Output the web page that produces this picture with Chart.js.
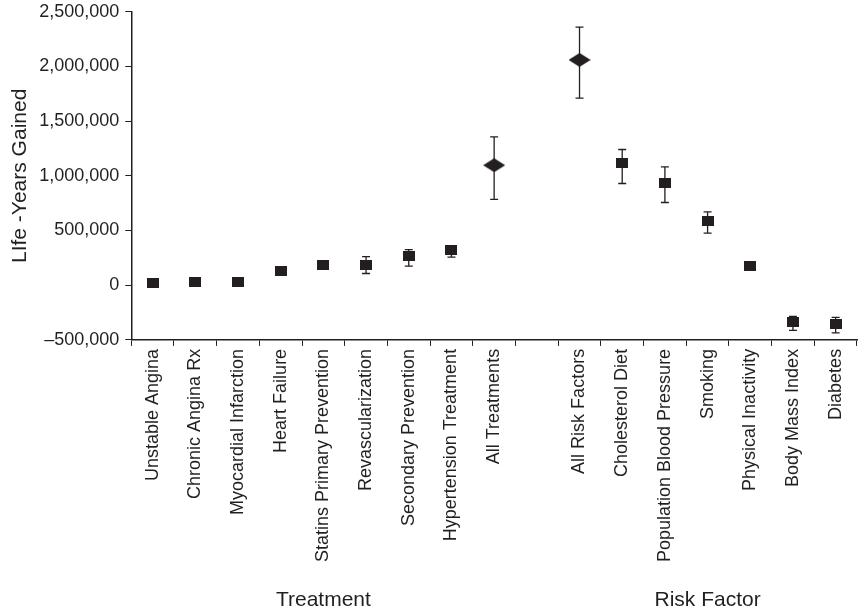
<!DOCTYPE html>
<html>
<head>
<meta charset="utf-8">
<script src="https://cdn.jsdelivr.net/npm/chart.js@4"></script>
<style>
  html, body { margin: 0; padding: 0; background: #fff; overflow: hidden; }
  #wrap { position: absolute; left: 0; top: -5px; width: 868px; height: 615px; }
</style>
</head>
<body>
<div id="wrap"><canvas id="lifeChart"></canvas></div>
<script>
const categories = [
    'Unstable Angina', 'Chronic Angina Rx', 'Myocardial Infarction', 'Heart Failure',
    'Statins Primary Prevention', 'Revascularization', 'Secondary Prevention',
    'Hypertension Treatment', 'All Treatments', '',
    'All Risk Factors', 'Cholesterol Diet', 'Population Blood Pressure', 'Smoking',
    'Physical Inactivity', 'Body Mass Index', 'Diabetes'
];
// individual items (squares)
const itemValues = [20000, 30000, 30000, 128000, 183000, 183000, 265000, 320000, null, null,
                    null, 1113000, 933000, 585000, 174000, -338000, -357000];
// totals (diamonds)
const totalValues = [null, null, null, null, null, null, null, null, 1097000, null,
                     2060000, null, null, null, null, null, null];
const lowValues  = [null, null, null, null, 170000, 107000, 174000, 256000, 784000, null,
                    1710000, 930000, 756000, 476000, 160000, -414000, -436000];
const highValues = [null, null, null, null, 200000, 262000, 326000, 359000, 1356000, null,
                    2360000, 1241000, 1082000, 671000, 188000, -286000, -295000];
const yTicks = [-500000, 0, 500000, 1000000, 1500000, 2000000, 2500000];
const groups = [
    { label: 'Treatment', center: 4 },
    { label: 'Risk Factor', center: 13 }
];

const INK = '#231f20';
const FONT = '"Liberation Sans", Arial, sans-serif';

function makeMarker(w, h, diamond) {
    const c = document.createElement('canvas');
    c.width = w; c.height = h;
    const g = c.getContext('2d');
    g.fillStyle = INK;
    if (diamond) {
        g.beginPath();
        g.moveTo(w / 2, 0); g.lineTo(w, h / 2); g.lineTo(w / 2, h); g.lineTo(0, h / 2);
        g.closePath(); g.fill();
    } else {
        g.fillRect(0, 0, w, h);
    }
    return c;
}
const squareMark = makeMarker(12, 10, false);
const diamondMark = makeMarker(22, 14, true);

const errorBars = {
    id: 'errorBars',
    afterDatasetsDraw(chart) {
        const { ctx, scales: { x, y } } = chart;
        ctx.save();
        ctx.strokeStyle = INK;
        ctx.lineWidth = 1.3;
        lowValues.forEach((lo, i) => {
            const hi = highValues[i];
            if (lo === null || hi === null) return;
            const px = x.getPixelForValue(i);
            const y1 = y.getPixelForValue(lo), y2 = y.getPixelForValue(hi);
            ctx.beginPath();
            ctx.moveTo(px, y1); ctx.lineTo(px, y2);
            ctx.moveTo(px - 4, y1); ctx.lineTo(px + 4, y1);
            ctx.moveTo(px - 4, y2); ctx.lineTo(px + 4, y2);
            ctx.stroke();
        });
        ctx.restore();
    }
};

// canvas is shifted up 5px, so 605 here lands at 600 on the page
const groupLabels = {
    id: 'groupLabels',
    afterDraw(chart) {
        const { ctx, scales: { x } } = chart;
        ctx.save();
        ctx.fillStyle = INK;
        ctx.font = '21px ' + FONT;
        ctx.textAlign = 'center';
        ctx.textBaseline = 'middle';
        groups.forEach(g => ctx.fillText(g.label, x.getPixelForValue(g.center), 605));
        ctx.restore();
    }
};

new Chart(document.getElementById('lifeChart'), {
    type: 'line',
    data: {
        labels: categories,
        datasets: [
            { data: itemValues, showLine: false, pointStyle: squareMark, pointRadius: 6 },
            { data: totalValues, showLine: false, pointStyle: diamondMark, pointRadius: 10 }
        ]
    },
    options: {
        responsive: true,
        maintainAspectRatio: false,
        animation: false,
        layout: { padding: { top: 0, right: 0, bottom: 45, left: 4 } },
        plugins: { legend: { display: false }, tooltip: { enabled: false } },
        scales: {
            x: {
                offset: true,
                grid: { drawOnChartArea: false, drawTicks: true, tickLength: 6, color: INK, offset: true },
                border: { color: INK, width: 1.5 },
                ticks: {
                    color: INK,
                    autoSkip: false,
                    maxRotation: 90,
                    minRotation: 90,
                    padding: 3,
                    font: { family: FONT, size: 18 }
                }
            },
            y: {
                min: -500000,
                max: 2500000,
                afterBuildTicks: axis => { axis.ticks = yTicks.map(v => ({ value: v })); },
                grid: { drawOnChartArea: false, drawTicks: true, tickLength: 6, color: INK },
                border: { color: INK, width: 1.5 },
                title: {
                    display: true,
                    text: 'LIfe -Years Gained',
                    color: INK,
                    font: { family: FONT, size: 21 },
                    padding: { top: 4, bottom: 0 }
                },
                ticks: {
                    color: INK,
                    padding: 6,
                    font: { family: FONT, size: 18 },
                    callback: v => (v < 0 ? '\u2013' : '') + Math.abs(v).toLocaleString('en-US')
                }
            }
        }
    },
    plugins: [errorBars, groupLabels]
});
</script>
</body>
</html>
